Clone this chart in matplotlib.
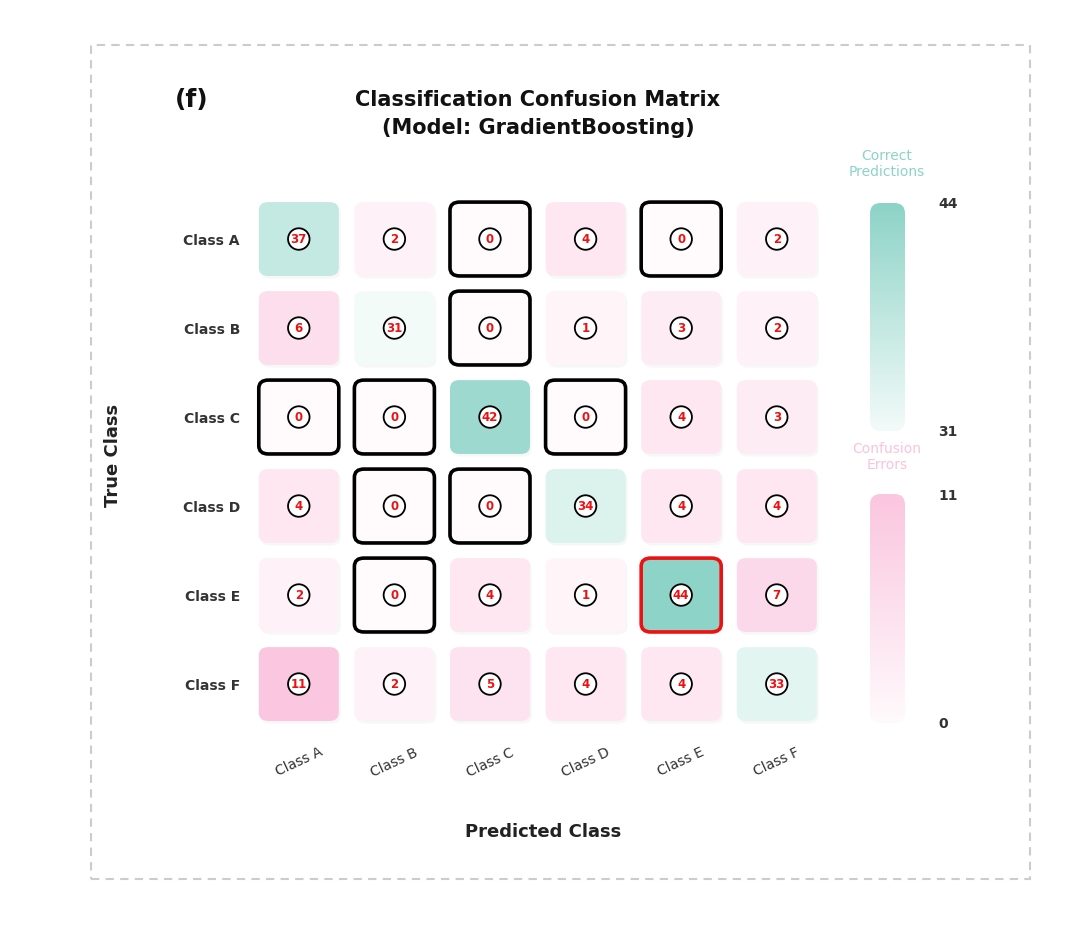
import numpy as np
import matplotlib.pyplot as plt
from matplotlib.patches import FancyBboxPatch, Ellipse, Rectangle
from matplotlib.colors import LinearSegmentedColormap, Normalize

classes = ["Class A", "Class B", "Class C", "Class D", "Class E", "Class F"]
row_a = [37, 2, 0, 4, 0, 2]
row_b = [6, 31, 0, 1, 3, 2]
row_c = [0, 0, 42, 0, 4, 3]
row_d = [4, 0, 0, 34, 4, 4]
row_e = [2, 0, 4, 1, 44, 7]
row_f = [11, 2, 5, 4, 4, 33]

cm = np.array([row_a, row_b, row_c, row_d, row_e, row_f])
n = len(classes)

plt.rcParams["font.family"] = ["DejaVu Sans"]

correct_cmap = LinearSegmentedColormap.from_list("correct", ["#f3fbf9", "#8dd3c7"])
error_cmap = LinearSegmentedColormap.from_list("error", ["#fffafc", "#fbc6df"])

diag = np.diag(cm)
off = cm[~np.eye(n, dtype=bool)]
c_norm = Normalize(diag.min(), diag.max())
e_norm = Normalize(off.min(), off.max())

fig = plt.figure(figsize=(10.8, 9.25), dpi=100)

# gestrichelter Rahmen
fig.patches.append(Rectangle((91 / 1080, 1 - 879 / 925), 939 / 1080, 834 / 925,
                             transform=fig.transFigure, fill=False,
                             edgecolor="#cccccc", lw=1.5, ls=(0, (4, 3))))

ax = fig.add_axes([0.2324, 0.2124, 0.5311, 0.5773])
ax.set_xlim(-0.5, n - 0.5)
ax.set_ylim(n - 0.5, -0.5)
for s in ax.spines.values():
    s.set_visible(False)

cw, ch = 0.837, 0.83
ma = 95.6 / 89
max_val = cm.max()
for i in range(n):
    for j in range(n):
        v = cm[i, j]
        fc = correct_cmap(c_norm(v)) if i == j else error_cmap(e_norm(v))
        # Schatten
        ax.add_patch(FancyBboxPatch((j - cw / 2 + 0.02, i - ch / 2 + 0.03), cw, ch,
                                    boxstyle="round,pad=0,rounding_size=0.1",
                                    mutation_aspect=1 / ma, fc="#eef0f0", ec="none",
                                    alpha=0.5, zorder=1))
        if v == 0 and i != j:
            ec, lw = "black", 2.6
        elif v == max_val:
            ec, lw = "#ee1111", 2.6
        else:
            ec, lw = "none", 0
        ax.add_patch(FancyBboxPatch((j - cw / 2, i - ch / 2), cw, ch,
                                    boxstyle="round,pad=0,rounding_size=0.1",
                                    mutation_aspect=1 / ma, fc=fc, ec=ec, lw=lw,
                                    zorder=2))
        ax.add_patch(Ellipse((j, i), 0.225, 0.225 * ma, fc="white",
                             ec="black", lw=1.3, zorder=3))
        ax.text(j, i, str(v), ha="center", va="center", color="#ee1111",
                fontsize=8.5, fontweight="bold", zorder=4)

ax.set_xticks(range(n))
ax.set_yticks(range(n))
ax.set_xticklabels(classes, rotation=25, fontsize=10, color="#333333")
ax.set_yticklabels(classes, fontsize=10, fontweight="bold", color="#333333")
ax.tick_params(length=0)
ax.tick_params(axis="x", pad=12)
ax.tick_params(axis="y", pad=8)

fig.text(543 / 1080, 1 - 832 / 925, "Predicted Class", ha="center", va="center",
         fontsize=13, fontweight="bold", color="#222222")
fig.text(113 / 1080, 1 - 455 / 925, "True Class", ha="center", va="center",
         rotation=90, fontsize=13, fontweight="bold", color="#222222")
fig.text(538 / 1080, 1 - 114 / 925,
         "Classification Confusion Matrix\n(Model: GradientBoosting)",
         ha="center", va="center", fontsize=15, fontweight="bold",
         color="#111111", linespacing=1.45)
fig.text(192 / 1080, 1 - 100 / 925, "(f)", ha="center", va="center",
         fontsize=18, fontweight="bold", color="#111111")


def rounded_bar(rect, cmap, vmin, vmax):
    cax = fig.add_axes(rect)
    grad = np.linspace(vmin, vmax, 256).reshape(-1, 1)
    im = cax.imshow(grad, cmap=cmap, aspect="auto", origin="lower",
                    extent=[0, 1, vmin, vmax])
    clip = FancyBboxPatch((0, vmin), 1, vmax - vmin,
                          boxstyle="round,pad=0,rounding_size=0.3",
                          mutation_aspect=(vmax - vmin) / 6.5,
                          transform=cax.transData, fc="none", ec="none")
    cax.add_patch(clip)
    im.set_clip_path(clip)
    cax.set_xticks([])
    cax.set_yticks([vmin, vmax])
    cax.yaxis.tick_right()
    cax.tick_params(length=0, pad=24, labelsize=10)
    for t in cax.get_yticklabels():
        t.set_fontweight("bold")
        t.set_color("#333333")
    for s in cax.spines.values():
        s.set_visible(False)
    return cax


rounded_bar([870 / 1080, 1 - 431 / 925, 35 / 1080, 228 / 925],
            correct_cmap, diag.min(), diag.max())
rounded_bar([870 / 1080, 1 - 723 / 925, 35 / 1080, 229 / 925],
            error_cmap, off.min(), off.max())

fig.text(887 / 1080, 1 - 164 / 925, "Correct\nPredictions", ha="center",
         va="center", fontsize=10, color="#8dd3c7", linespacing=1.1)
fig.text(887 / 1080, 1 - 457 / 925, "Confusion\nErrors", ha="center",
         va="center", fontsize=10, color="#f9c3dc", linespacing=1.1)

fig.savefig("out.png", dpi=100)
